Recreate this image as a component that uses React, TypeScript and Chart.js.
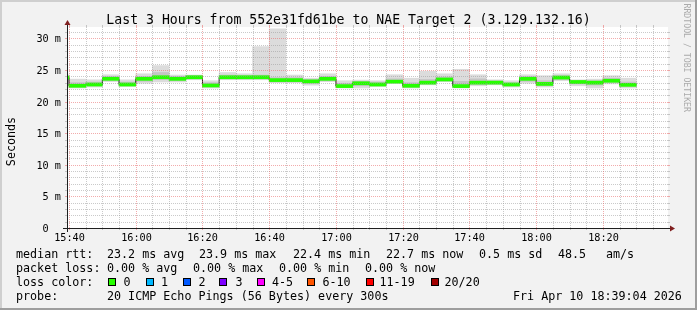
import React, { useEffect, useRef } from 'react';
import { Chart, registerables } from 'chart.js';

Chart.register(...registerables);

// ---------- data ----------
const stepTimes = [
  '15:35', '15:40', '15:45', '15:50', '15:55',
  '16:00', '16:05', '16:10', '16:15', '16:20', '16:25', '16:30', '16:35', '16:40', '16:45', '16:50', '16:55',
  '17:00', '17:05', '17:10', '17:15', '17:20', '17:25', '17:30', '17:35', '17:40', '17:45', '17:50', '17:55',
  '18:00', '18:05', '18:10', '18:15', '18:20', '18:25',
];
const STEP_MIN = 5;

// median rtt in ms
const medianRtt = [
  23.8, 22.5, 22.7, 23.6, 22.7,
  23.6, 23.85, 23.6, 23.85, 22.55, 23.85, 23.85, 23.85, 23.4, 23.4, 23.2, 23.6,
  22.45, 22.9, 22.7, 23.15, 22.5, 23.0, 23.5, 22.45, 23.0, 23.0, 22.7, 23.6,
  22.8, 23.8, 23.1, 23.0, 23.3, 22.65,
];
// outer smoke (slowest / fastest ping)
const smokeMax = [
  24.25, 23.55, 23.45, 24.25, 23.45,
  24.4, 25.7, 24.2, 24.2, 23.3, 24.6, 24.4, 28.7, 31.5, 24.2, 23.7, 24.4,
  23.3, 23.4, 23.3, 24.25, 23.7, 24.8, 24.4, 25.1, 24.25, 23.45, 23.3, 24.25,
  24.1, 24.4, 23.45, 23.55, 24.1, 23.7,
];
const smokeMin = [
  23.15, 22.15, 22.3, 23.15, 22.4,
  22.9, 23.1, 23.1, 23.45, 22.15, 23.45, 23.45, 23.45, 23.0, 23.0, 22.6, 23.15,
  22.15, 22.15, 22.4, 22.9, 22.15, 22.65, 23.15, 22.15, 22.5, 22.65, 22.3, 22.9,
  22.3, 23.3, 22.5, 22.15, 22.8, 22.15,
];
// inner smoke band
const smokeHi = [
  24.0, 23.0, 23.1, 24.0, 23.1,
  24.0, 24.6, 24.0, 24.1, 23.0, 24.2, 24.1, 24.2, 23.8, 23.8, 23.5, 24.0,
  22.9, 23.2, 23.1, 23.6, 23.0, 23.5, 23.9, 23.2, 23.6, 23.3, 23.0, 24.0,
  23.3, 24.1, 23.3, 23.3, 23.7, 23.1,
];
const smokeLo = [
  23.5, 22.3, 22.5, 23.4, 22.5,
  23.2, 23.5, 23.3, 23.6, 22.3, 23.6, 23.6, 23.6, 23.1, 23.1, 22.9, 23.3,
  22.3, 22.5, 22.5, 23.0, 22.3, 22.8, 23.3, 22.3, 22.7, 22.8, 22.5, 23.2,
  22.5, 23.5, 22.8, 22.6, 23.0, 22.4,
];

const viewStart = '15:39:24';
const viewEnd = '18:39:30';
const yMin = 0;
const yMax = 31.8;
const yTickValues = [0, 5, 10, 15, 20, 25, 30];
const yTickLabels = ['0  ', '5 m', '10 m', '15 m', '20 m', '25 m', '30 m'];
const xTickLabels = ['15:40', '16:00', '16:20', '16:40', '17:00', '17:20', '17:40', '18:00', '18:20'];

const titleText = 'Last 3 Hours from 552e31fd61be to NAE Target 2 (3.129.132.16)';
const yAxisTitle = 'Seconds';
const watermark = 'RRDTOOL / TOBI OETIKER';
const rttRow = ['median rtt:', '23.2 ms avg', '23.9 ms max', '22.4 ms min', '22.7 ms now', '0.5 ms sd', '48.5', 'am/s'];
const lossRow = ['packet loss:', '0.00 % avg', '0.00 % max', '0.00 % min', '0.00 % now'];
const lossColorTitle = 'loss color:';
const lossLabels = ['0', '1', '2', '3', '4-5', '6-10', '11-19', '20/20'];
const lossColors = ['#26ff00', '#00b8ff', '#0059ff', '#7e00ff', '#ff00ff', '#ff5500', '#ff0000', '#a10000'];
const probeRow = ['probe:', '20 ICMP Echo Pings (56 Bytes) every 300s', 'Fri Apr 10 18:39:04 2026'];

// ---------- layout (positions only) ----------
const rttX = [16, 107, 199, 293, 386, 479, 558, 606];
const lossX = [16, 107, 193, 279, 365];
const boxX = [108, 146, 183, 219, 257, 307, 366, 431];
const boxLabelX = [123.5, 161, 198.5, 235.5, 272, 322.5, 379.5, 444.5];
const probeX = [16, 107, 513];
const rowBase = [258, 272, 286, 300];

const FONT = '"DejaVu Sans Mono", monospace';
const GREEN_HALF = 0.24;

const toMinutes = (t: string) => {
  const p = t.split(':').map(Number);
  return p[0] * 60 + p[1] + (p[2] || 0) / 60;
};

const rrdPlugin = {
  id: 'rrdLook',
  beforeDraw(chart: any) {
    const { ctx, width, height, chartArea: a } = chart;
    ctx.save();
    ctx.fillStyle = '#f2f2f2';
    ctx.fillRect(0, 0, width, height);
    ctx.fillStyle = '#cfcfcf';
    ctx.fillRect(0, 0, width, 2);
    ctx.fillRect(0, 0, 2, height);
    ctx.fillStyle = '#9e9e9e';
    ctx.fillRect(0, height - 2, width, 2);
    ctx.fillRect(width - 2, 0, 2, height);
    ctx.fillStyle = '#ffffff';
    ctx.fillRect(a.left, a.top, a.right - a.left, a.bottom - a.top);
    ctx.restore();
  },
  afterDatasetsDraw(chart: any) {
    const { ctx, chartArea: a } = chart;
    const xs = chart.scales.x;
    const ys = chart.scales.y;
    const GRID = 'rgba(150,150,150,0.5)';
    const MGRID = 'rgba(230,90,90,0.5)';
    ctx.save();
    ctx.lineWidth = 1;
    const hline = (x0: number, x1: number, y: number) => { ctx.beginPath(); ctx.moveTo(x0, y); ctx.lineTo(x1, y); ctx.stroke(); };
    const vline = (x: number, y0: number, y1: number) => { ctx.beginPath(); ctx.moveTo(x, y0); ctx.lineTo(x, y1); ctx.stroke(); };

    // horizontal grid
    for (let v = 1; v < yMax; v += 1) {
      const major = yTickValues.includes(v);
      const y = Math.round(ys.getPixelForValue(v)) + 0.5;
      ctx.strokeStyle = major ? MGRID : GRID;
      ctx.setLineDash([]);
      hline(a.left - 2, a.left, y);
      hline(a.right, a.right + 2, y);
      ctx.setLineDash([1, 1]);
      hline(a.left, a.right, y);
    }
    // vertical grid
    const majorMins = xTickLabels.map(toMinutes);
    const first = majorMins[0];
    for (let m = first - 20; m <= xs.max; m += STEP_MIN) {
      if (m < xs.min) continue;
      const major = majorMins.includes(m);
      const x = Math.round(xs.getPixelForValue(m)) + 0.5;
      ctx.strokeStyle = major ? MGRID : GRID;
      ctx.setLineDash([]);
      vline(x, a.top - 2, a.top);
      vline(x, a.bottom, a.bottom + 2);
      ctx.setLineDash([1, 1]);
      vline(x, a.bottom, a.top);
    }
    ctx.setLineDash([]);

    // axes
    const ax = a.left + 0.5;
    const ay = a.bottom + 0.5;
    ctx.strokeStyle = '#1f1f1f';
    hline(a.left - 4, a.right + 4, ay);
    vline(ax, a.bottom + 4, a.top - 4);
    ctx.fillStyle = '#801f1f';
    ctx.beginPath();
    ctx.moveTo(a.right + 2, ay - 3);
    ctx.lineTo(a.right + 2, ay + 3);
    ctx.lineTo(a.right + 7, ay);
    ctx.closePath();
    ctx.fill();
    ctx.beginPath();
    ctx.moveTo(ax - 3, a.top - 2);
    ctx.lineTo(ax + 3, a.top - 2);
    ctx.lineTo(ax, a.top - 7);
    ctx.closePath();
    ctx.fill();
    ctx.restore();
  },
  afterDraw(chart: any) {
    const { ctx, width, chartArea: a } = chart;
    const xs = chart.scales.x;
    const ys = chart.scales.y;
    ctx.save();
    ctx.fillStyle = '#000000';
    ctx.textBaseline = 'alphabetic';

    // title
    ctx.font = `13.2px ${FONT}`;
    ctx.textAlign = 'center';
    ctx.fillText(titleText, width / 2, 24);

    // axis labels
    ctx.font = `10.2px ${FONT}`;
    ctx.textAlign = 'right';
    yTickValues.forEach((v, i) => {
      ctx.fillText(yTickLabels[i], a.left - 6, Math.round(ys.getPixelForValue(v)) + 4);
    });
    ctx.textAlign = 'center';
    xTickLabels.forEach((lab) => {
      ctx.fillText(lab, Math.round(xs.getPixelForValue(toMinutes(lab))) + 0.5, 241);
    });

    // y axis title
    ctx.font = `11.7px ${FONT}`;
    ctx.save();
    ctx.translate(14.5, (a.top + a.bottom) / 2 + 14);
    ctx.rotate(-Math.PI / 2);
    ctx.textAlign = 'center';
    ctx.fillText(yAxisTitle, 0, 0);
    ctx.restore();

    // watermark
    ctx.save();
    ctx.font = `8.2px ${FONT}`;
    ctx.fillStyle = '#ababab';
    ctx.translate(683.5, 3.5);
    ctx.rotate(Math.PI / 2);
    ctx.textAlign = 'left';
    ctx.fillText(watermark, 0, 0);
    ctx.restore();

    // legend
    ctx.font = `11.7px ${FONT}`;
    ctx.textAlign = 'left';
    rttRow.forEach((s, i) => ctx.fillText(s, rttX[i], rowBase[0]));
    lossRow.forEach((s, i) => ctx.fillText(s, lossX[i], rowBase[1]));
    ctx.fillText(lossColorTitle, 16, rowBase[2]);
    lossLabels.forEach((s, i) => {
      const bx = boxX[i];
      const by = rowBase[2] - 8;
      ctx.fillStyle = lossColors[i];
      ctx.fillRect(bx, by, 8, 8);
      ctx.strokeStyle = '#000000';
      ctx.lineWidth = 1;
      ctx.strokeRect(bx + 0.5, by + 0.5, 7, 7);
      ctx.fillStyle = '#000000';
      ctx.fillText(s, boxLabelX[i], rowBase[2]);
    });
    probeRow.forEach((s, i) => ctx.fillText(s, probeX[i], rowBase[3]));
    ctx.restore();
  },
};

export default function App() {
  const ref = useRef<HTMLCanvasElement | null>(null);

  useEffect(() => {
    document.body.style.margin = '0';
    const canvas = ref.current;
    if (!canvas) return;

    const starts = stepTimes.map(toMinutes);
    const centers = starts.map((s) => s + STEP_MIN / 2);
    const band = (lo: number[], hi: number[]) => centers.map((x, i) => ({ x, y: [lo[i], hi[i]] }));
    const last = starts.length - 1;
    const lineData = starts.map((x, i) => ({ x, y: medianRtt[i] }));
    lineData.push({ x: starts[last] + STEP_MIN, y: medianRtt[last] });

    const barCommon = {
      type: 'bar' as const,
      grouped: false,
      borderWidth: 0,
      borderSkipped: false,
      categoryPercentage: 1,
      barPercentage: 1,
    };

    const chart = new Chart(canvas, {
      type: 'bar',
      data: {
        datasets: [
          {
            ...barCommon,
            label: 'loss 0',
            data: centers.map((x, i) => ({ x, y: [medianRtt[i] - GREEN_HALF, medianRtt[i] + GREEN_HALF] })),
            backgroundColor: lossColors[0],
            order: 0,
          } as any,
          {
            type: 'line',
            label: 'median',
            data: lineData,
            stepped: 'before',
            borderColor: '#202020',
            borderWidth: 1,
            pointRadius: 0,
            fill: false,
            order: 1,
          } as any,
          {
            ...barCommon,
            label: 'smoke inner',
            data: band(smokeLo, smokeHi),
            backgroundColor: '#c4c4c4',
            order: 2,
          } as any,
          {
            ...barCommon,
            label: 'smoke outer',
            data: band(smokeMin, smokeMax),
            backgroundColor: '#dcdcdc',
            order: 3,
          } as any,
        ],
      },
      options: {
        responsive: false,
        animation: false,
        devicePixelRatio: 1,
        events: [],
        layout: { padding: { left: 67, right: 29, top: 27, bottom: 82 } },
        plugins: { legend: { display: false }, tooltip: { enabled: false } },
        scales: {
          x: {
            type: 'linear',
            display: false,
            offset: false,
            min: toMinutes(viewStart),
            max: toMinutes(viewEnd),
          },
          y: {
            type: 'linear',
            display: false,
            min: yMin,
            max: yMax,
          },
        },
      },
      plugins: [rrdPlugin],
    });

    return () => chart.destroy();
  }, []);

  return (
    <canvas ref={ref} width={697} height={310} style={{ display: 'block', width: 697, height: 310 }} />
  );
}
